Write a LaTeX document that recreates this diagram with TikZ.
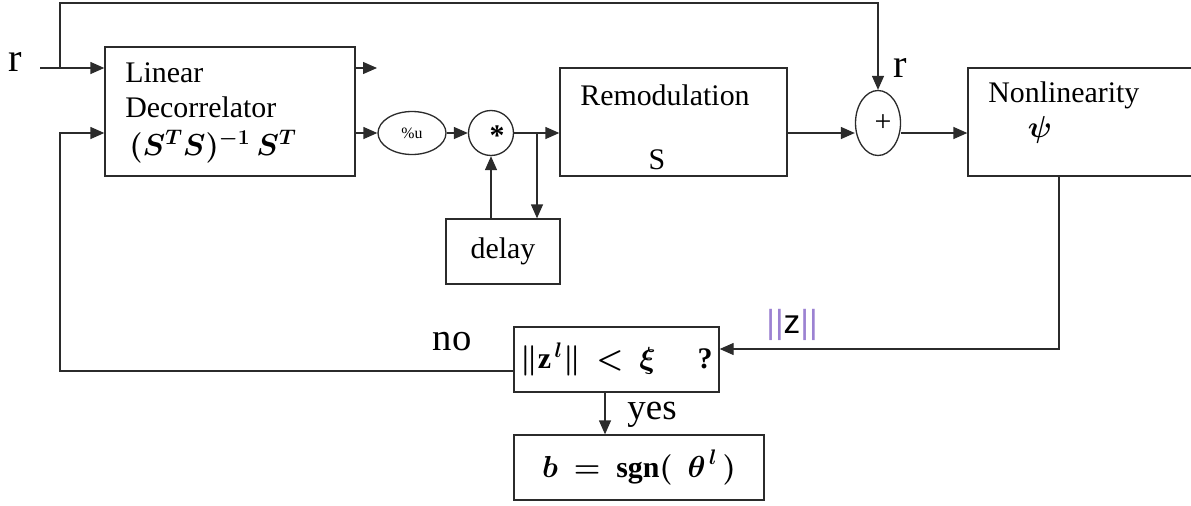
\documentclass[tikz,border=0pt]{standalone}
\usepackage{amsmath}
\usepackage{fontspec}
\setmainfont{Liberation Serif}
\newfontfamily\arialfont{Liberation Sans}
\usetikzlibrary{arrows.meta,positioning,shapes.geometric}
\definecolor{LineGray}{HTML}{2B2B2B}
\definecolor{NormPurple}{HTML}{9C82D2}
\tikzset{>={Triangle[length=2.8mm,width=2.4mm]},every node/.style={font=\fontsize{17}{20}\selectfont},
 blk/.style={draw=LineGray,line width=.75pt,inner sep=0pt},
 oval/.style={ellipse,draw=LineGray,line width=.75pt,inner sep=0pt},
 txt/.style={inner sep=0pt},big/.style={inner sep=0pt,font=\fontsize{23}{26}\selectfont},
 wire/.style={draw=LineGray,line width=.75pt,->},line/.style={draw=LineGray,line width=.75pt}}

\begin{document}
\begin{tikzpicture}
\useasboundingbox (0,0) rectangle (23.82,-10.1);
% blocks
\node[blk,minimum width=5cm,minimum height=2.58cm] (dec) at (4.6,-2.23) {};
\node[blk,minimum width=4.54cm,minimum height=2.16cm] (rem) at (13.47,-2.44) {};
\node[blk,minimum width=4.54cm,minimum height=2.16cm] (nonl) at (21.63,-2.44) {};
\node[blk,minimum width=2.28cm,minimum height=1.3cm] (delay) at (10.06,-5.03) {delay};
\node[blk,minimum width=4.1cm,minimum height=1.3cm] (test) at (12.33,-7.19)
 {$\boldsymbol{\|}\mathbf{z}^{\,\boldsymbol{l}}\boldsymbol{\|}\ \boldsymbol{<}\ \boldsymbol{\xi}$\hspace{1.4em}\textbf{?}};
\node[blk,minimum width=5cm,minimum height=1.3cm] (out) at (12.78,-9.35)
 {$\boldsymbol{b}\ \boldsymbol{=}\ \mathbf{sgn}\boldsymbol{(}\ \ \boldsymbol{\theta}^{\,\boldsymbol{l}}\,\boldsymbol{)}$};
\node[oval,minimum width=1.36cm,minimum height=.86cm] (modu) at (8.24,-2.66) {\fontsize{9}{10}\selectfont\%u};
\node[circle,draw=LineGray,line width=.75pt,minimum size=.9cm,inner sep=0pt] (mul) at (9.82,-2.66) {};
\node[oval,minimum width=.9cm,minimum height=1.3cm] (sum) at (17.56,-2.46) {};
% texts
\node[txt] (star) at (9.94,-2.72) {\textbf{*}};
\node[txt] (plus) at (17.66,-2.46) {+};
\node[txt,anchor=west] (lin) at (2.5,-1.46) {Linear};
\node[txt,anchor=west] (decor) at (2.5,-2.14) {Decorrelator};
\node[txt] (form) at (4.26,-2.94) {$\boldsymbol{(S^{T}S)^{-1}\,S^{T}}$};
\node[txt,anchor=west] (remo) at (11.6,-1.9) {Remodulation};
\node[txt] (smat) at (13.14,-3.2) {S};
\node[txt,anchor=west] (nonlin) at (19.76,-1.9) {Nonlinearity};
\node[txt] (psi) at (20.8,-2.6) {$\boldsymbol{\psi}$};
\node[big] (rlab) at (0.3,-1.24) {r};
\node[big] (rsum) at (18.0,-1.36) {r};
\node[txt,font=\fontsize{19}{22}\selectfont] (znorm) at (15.84,-6.5)
 {\arialfont\textcolor{NormPurple}{||}z\textcolor{NormPurple}{||}};
\node[txt,font=\fontsize{22}{24}\selectfont] (no) at (9.04,-6.84) {no};
\node[txt,font=\fontsize{21}{24}\selectfont] (yes) at (13.04,-8.3) {yes};
% connectors
\coordinate (rin) at (0.8,-1.36);
\coordinate (tap) at (1.2,-1.36);
\coordinate (top) at (1.2,-0.06);
\coordinate (dout) at (7.54,-1.36);
\coordinate (fb) at (1.2,-7.42);
\coordinate (br) at (10.74,-2.66);
\coordinate (zc) at (21.18,-6.98);
\coordinate (yx) at (12.1,-8.0);
\draw[wire] (rin) -- (rin -| dec.west);
\draw[wire] (tap) -- (top) -| (sum.north);
\draw[wire] (dout -| dec.east) -- (dout);
\draw[wire] (test.west |- fb) -- (fb) |- (dec.west |- br);
\draw[wire] (dec.east |- br) -- (modu);
\draw[wire] (modu) -- (mul);
\draw[wire] (mul) -- (rem.west |- br);
\draw[wire] (br) -- (br |- delay.north);
\draw[wire] (delay.north -| mul) -- (mul);
\draw[wire] (rem.east |- br) -- (sum.west |- br);
\draw[wire] (sum.east |- br) -- (nonl.west |- br);
\draw[wire] (zc |- nonl.south) -- (zc) -- (test.east |- zc);
\draw[wire] (test.south -| yx) -- (out.north -| yx);
\end{tikzpicture}
\end{document}
